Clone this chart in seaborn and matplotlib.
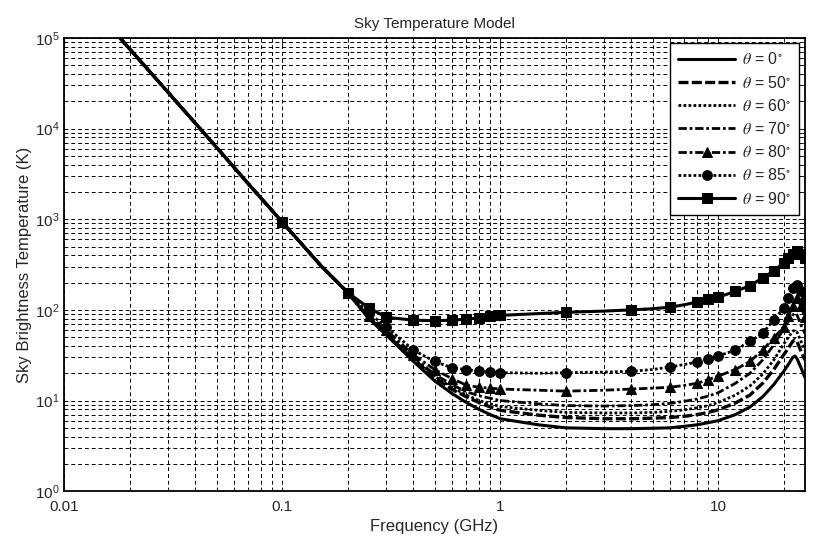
import matplotlib
matplotlib.use("Agg")
import matplotlib.pyplot as plt
import matplotlib.ticker as mticker
import seaborn as sns
import pandas as pd

# frequencies in GHz
freq = [0.018, 0.03, 0.05, 0.07, 0.1, 0.15, 0.2, 0.25, 0.3, 0.4, 0.5, 0.6, 0.7,
        0.8, 0.9, 1, 1.5, 2, 3, 4, 5, 6, 7, 8, 9, 10, 12, 14, 16, 18, 20, 21,
        22, 22.5, 23, 24, 25]

# galactic part, shared by all elevation angles
galactic = [1e5, 25000, 6200, 2450, 930, 310, 155]

t_0 = [80, 53, 27, 16.5, 12, 9.5, 8, 7, 6.3, 5.4, 5.0, 4.9, 4.9, 4.95, 5.0,
       5.2, 5.4, 5.7, 6.0, 7.0, 8.5, 11, 15, 21, 25, 30, 31, 29, 23, 18]
t_50 = [81, 54, 28.5, 18, 13.3, 11, 9.5, 8.5, 7.8, 6.9, 6.5, 6.3, 6.3, 6.4,
        6.5, 6.7, 7.0, 7.4, 7.9, 9.4, 11.5, 15.5, 22, 32, 38, 45, 47, 45, 35, 28]
t_60 = [82, 55, 29, 18.5, 14, 11.5, 10, 9.2, 8.6, 7.8, 7.4, 7.3, 7.3, 7.4,
        7.6, 7.9, 8.3, 8.8, 9.5, 11.5, 14.5, 19.5, 28, 42, 50, 58, 60, 57, 45, 36]
t_70 = [83, 57, 30, 19.5, 15, 12.5, 11.3, 10.6, 10, 9.2, 8.8, 8.7, 8.8, 9.0,
        9.3, 9.8, 10.4, 11.2, 12.2, 15.5, 20, 28, 41, 62, 75, 88, 92, 88, 68, 55]
t_80 = [86, 60, 32, 22, 17.5, 14.8, 14, 13.7, 13.4, 13, 12.7, 13, 13.4, 13.7,
        14, 14.7, 15.5, 17, 18.6, 22, 27, 36, 49, 65, 85, 110, 130, 135, 110, 83]
t_85 = [92, 65, 36, 27, 23, 22, 21, 20.6, 20.3, 20, 20.3, 20.6, 21, 22, 23.4,
        25, 26.6, 28.6, 31, 36, 45, 55, 78, 105, 135, 175, 195, 190, 160, 130]
t_90 = [105, 83, 77, 76, 77, 79, 82, 85, 87, 91, 94, 97, 100, 103, 107, 114,
        122, 131, 138, 160, 185, 225, 270, 330, 370, 415, 440, 445, 410, 370]

# frequencies that carry a marker symbol
marker_freq = [0.1, 0.2, 0.25, 0.3, 0.4, 0.5, 0.6, 0.7, 0.8, 0.9, 1, 2, 4, 6,
               8, 9, 10, 12, 14, 16, 18, 20, 21, 22, 23, 24, 25]

labels = [r"$\theta$ = 0$^{\circ}$", r"$\theta$ = 50$^{\circ}$", r"$\theta$ = 60$^{\circ}$",
          r"$\theta$ = 70$^{\circ}$", r"$\theta$ = 80$^{\circ}$", r"$\theta$ = 85$^{\circ}$",
          r"$\theta$ = 90$^{\circ}$"]
series = [t_0, t_50, t_60, t_70, t_80, t_85, t_90]

styles = [
    dict(ls="-", lw=2.2, marker=None),
    dict(ls=(0, (3, 1)), lw=2.4, marker=None),
    dict(ls=(0, (1, 0.8)), lw=2.0, marker=None),
    dict(ls=(0, (3, 1, 1, 1)), lw=2.0, marker=None),
    dict(ls=(0, (3, 1, 1, 1)), lw=2.0, marker="^", ms=7),
    dict(ls=(0, (1, 0.8)), lw=2.0, marker="o", ms=7),
    dict(ls="-", lw=2.2, marker="s", ms=7),
]

sns.set_style("white")
plt.rcParams["font.family"] = ["Liberation Sans", "DejaVu Sans"]
plt.rcParams["mathtext.fontset"] = "stix"

fig = plt.figure(figsize=(8.13, 5.41), dpi=100)
ax = fig.add_axes([0.079, 0.092, 0.911, 0.838])

mark_idx = [i for i, f in enumerate(freq) if f in marker_freq]

for lab, vals, st in zip(labels, series, styles):
    df = pd.DataFrame({"freq": freq, "temp": galactic + vals})
    extra = {}
    if st["marker"]:
        extra = dict(marker=st["marker"], markersize=st["ms"], markevery=mark_idx)
    sns.lineplot(data=df, x="freq", y="temp", ax=ax, color="black",
                 linestyle=st["ls"], linewidth=st["lw"], label=lab,
                 markeredgecolor="black", **extra)

ax.set_xscale("log")
ax.set_yscale("log")
ax.set_xlim(0.01, 25)
ax.set_ylim(1, 1e5)

ax.xaxis.set_major_formatter(mticker.FuncFormatter(lambda v, p: f"{v:g}"))
ax.xaxis.set_minor_formatter(mticker.NullFormatter())
ax.yaxis.set_major_locator(mticker.LogLocator(base=10, numticks=10))
ax.yaxis.set_minor_locator(mticker.LogLocator(base=10, subs=range(2, 10), numticks=10))
ax.xaxis.set_minor_locator(mticker.LogLocator(base=10, subs=range(2, 10), numticks=10))

ax.grid(which="both", color="black", linestyle=(0, (4, 3)), linewidth=0.7)
ax.tick_params(which="both", direction="in", top=True, right=True, labelsize=11)
ax.tick_params(axis="x", pad=6)
ax.tick_params(which="major", length=5)
ax.tick_params(which="minor", length=3)
for s in ax.spines.values():
    s.set_color("black")
    s.set_linewidth(1.3)

ax.set_title("Sky Temperature Model", fontsize=11, pad=7)
ax.set_xlabel("Frequency (GHz)", fontsize=12, labelpad=4)
ax.set_ylabel("Sky Brightness Temperature (K)", fontsize=12, labelpad=2)

leg = ax.legend(loc="upper right", fontsize=11.5, handlelength=3.6, frameon=True,
                fancybox=False, borderaxespad=0.35, labelspacing=0.45,
                handletextpad=0.4, borderpad=0.5)
leg.get_frame().set_edgecolor("black")
leg.get_frame().set_linewidth(1.0)
leg.get_frame().set_alpha(1)

fig.savefig("out.png", dpi=100)
